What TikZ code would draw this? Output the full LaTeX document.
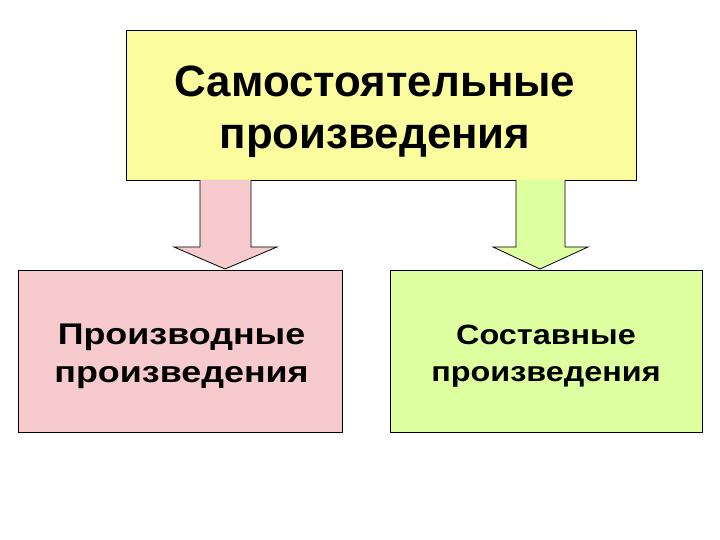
\documentclass[tikz,border=0pt]{standalone}
\usepackage{fontspec}
\setmainfont{Liberation Sans}
\newfontfamily\topfont{Liberation Sans}
\newfontfamily\leftfont[FakeStretch=1.2]{Liberation Sans}
\newfontfamily\rightfont[FakeStretch=1.16]{Liberation Sans}
\definecolor{topfill}{HTML}{FBFC9E}
\definecolor{leftfill}{HTML}{F7CBCD}
\definecolor{rightfill}{HTML}{DEFFA0}
\begin{document}
\begin{tikzpicture}[x=1bp,y=-1bp,
  box/.style={draw=black,line width=0.8bp,inner sep=0pt},
  bigarrow/.style={draw=black,line width=0.8bp,line join=miter}]
\useasboundingbox (0,0) rectangle (720,540);
% boxes
\draw[box,fill=topfill] (126,30) rectangle (636,180);
\draw[box,fill=leftfill] (18,270) rectangle (342,432);
\draw[box,fill=rightfill] (390,270) rectangle (702,432);
% arrows
\draw[bigarrow,fill=leftfill] (200,180) -- (200,247) -- (174,247) -- (225,269) -- (277,247) -- (251,247) -- (251,180);
\draw[bigarrow,fill=rightfill] (516,180) -- (516,247) -- (493,247) -- (540,269) -- (588,247) -- (565,247) -- (565,180);
% texts
\node[align=center,font=\topfont\bfseries\fontsize{44}{52}\selectfont] (top) at (375,112) {Самостоятельные\\произведения};
\node[align=center,font=\leftfont\bfseries\fontsize{30}{38}\selectfont] (left) at (181.5,356.5) {Производные\\произведения};
\node[align=center,font=\rightfont\bfseries\fontsize{28}{37}\selectfont] (right) at (546,356) {Составные\\произведения};
\end{tikzpicture}
\end{document}
